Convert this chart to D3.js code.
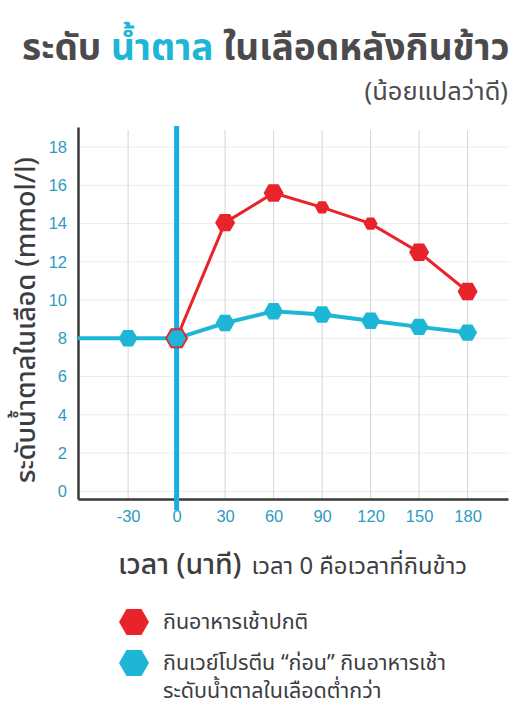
<!DOCTYPE html>
<html>
<head>
<meta charset="utf-8">
<script src="https://cdn.jsdelivr.net/npm/d3@7"></script>
<style>
  body { margin: 0; background: #fff; }
  svg { display: block; font-family: "Noto Sans Thai", "Noto Sans", sans-serif; }
</style>
</head>
<body>
<svg id="chart" width="525" height="720"></svg>
<script>
// data
let times = [-30, 0, 30, 60, 90, 120, 150, 180];
let normalBreakfast = [null, 8, 14.05, 15.6, 14.85, 14.0, 12.5, 10.45];
let wheyFirst = [8, 8, 8.8, 9.42, 9.25, 8.92, 8.6, 8.3];
let xTicks = [-30, 0, 30, 60, 90, 120, 150, 180];
let yTicks = [0, 2, 4, 6, 8, 10, 12, 14, 16, 18];
let smallRed = [90, 120];

let red = "#e8242a", blue = "#1db6d6", vline = "#16aee4", grey = "#4b4b4d", tickCol = "#2e9bc0";

let margin = {top: 127, right: 17, bottom: 221, left: 78},
    width = 525 - margin.left - margin.right,
    height = 720 - margin.top - margin.bottom;

let svg = d3.select("#chart");

// title
let title = svg.append("text")
    .attr("x", 22).attr("y", 60)
    .attr("font-size", 37).attr("font-weight", 700).attr("fill", grey);
title.append("tspan").text("ระดับ ");
title.append("tspan").attr("fill", blue).text("น้ำตาล");
title.append("tspan").text(" ในเลือดหลังกินข้าว");

svg.append("text")
    .attr("x", 508).attr("y", 100)
    .attr("text-anchor", "end")
    .attr("font-size", 25.5).attr("fill", grey)
    .text("(น้อยแปลว่าดี)");

let g = svg.append("g")
    .attr("transform", "translate(" + margin.left + "," + margin.top + ")");

// set the ranges
let x = d3.scaleLinear().domain([-61, 205]).range([0, width]);
let y = d3.scaleLinear().domain([-0.4, 19.05]).range([height, 0]);

// grid
g.selectAll(".hgrid").data(yTicks).enter().append("line")
    .attr("x1", 0).attr("x2", width + 2)
    .attr("y1", d => y(d)).attr("y2", d => y(d))
    .attr("stroke", "#ececec").attr("stroke-width", 1);

g.selectAll(".vgrid").data(xTicks.filter(d => d !== 0)).enter().append("line")
    .attr("x1", d => x(d)).attr("x2", d => x(d))
    .attr("y1", 3).attr("y2", height)
    .attr("stroke", "#d4d4d4").attr("stroke-width", 1);

// axes
let yAxis = g.append("g")
    .call(d3.axisLeft(y).tickValues(yTicks).tickSize(0).tickPadding(11));
yAxis.select(".domain").attr("stroke", "#3a3a3a").attr("stroke-width", 2.5);
yAxis.selectAll("text").attr("font-size", 16.5).attr("fill", tickCol)
    .attr("font-family", "'Liberation Sans', Arial, sans-serif");

let xAxis = g.append("g")
    .attr("transform", "translate(0," + height + ")")
    .call(d3.axisBottom(x).tickValues(xTicks).tickSize(0).tickPadding(11)
        .tickFormat(d => d < 0 ? "-" + Math.abs(d) : d));
xAxis.select(".domain").attr("stroke", "#3a3a3a").attr("stroke-width", 2.5);
xAxis.selectAll("text").attr("font-size", 16.5).attr("fill", tickCol)
    .attr("font-family", "'Liberation Sans', Arial, sans-serif");

// time zero line
g.append("line")
    .attr("x1", x(0)).attr("x2", x(0))
    .attr("y1", -1).attr("y2", height + 11)
    .attr("stroke", vline).attr("stroke-width", 5);

// hexagon path
function hex(r) {
  let pts = d3.range(6).map(i => [r * Math.cos(i * Math.PI / 3), r * Math.sin(i * Math.PI / 3)]);
  return "M" + pts.join("L") + "Z";
}

let redPts = times.map((t, i) => ({t: t, v: normalBreakfast[i]})).filter(d => d.v !== null);
let bluePts = times.map((t, i) => ({t: t, v: wheyFirst[i]}));

let line = d3.line().x(d => x(d.t)).y(d => y(d.v));

// blue line runs in from the left edge of the plot
g.append("path")
    .datum([{t: x.domain()[0], v: wheyFirst[0]}].concat(bluePts))
    .attr("d", line)
    .attr("fill", "none").attr("stroke", blue).attr("stroke-width", 4);

g.append("path")
    .datum(redPts)
    .attr("d", line)
    .attr("fill", "none").attr("stroke", red).attr("stroke-width", 3);

g.selectAll(".redm").data(redPts).enter().append("path")
    .attr("transform", d => "translate(" + x(d.t) + "," + y(d.v) + ")")
    .attr("d", d => hex(smallRed.includes(d.t) ? 7 : 10))
    .attr("fill", red);

g.selectAll(".bluem").data(bluePts).enter().append("path")
    .attr("transform", d => "translate(" + x(d.t) + "," + y(d.v) + ")")
    .attr("d", d => hex(d.t === 0 ? 10.5 : 9.5))
    .attr("fill", blue)
    .attr("stroke", d => redPts.some(r => r.t === d.t && r.v === d.v) ? red : "none")
    .attr("stroke-width", 1.8);

// axis titles
svg.append("text")
    .attr("transform", "translate(35," + (margin.top + 193) + ") rotate(-90)")
    .attr("text-anchor", "middle")
    .attr("font-size", 27).attr("font-weight", 500).attr("fill", "#3d3d3f")
    .text("ระดับน้ำตาลในเลือด (mmol/l)");

let xt = svg.append("text")
    .attr("x", 118).attr("y", 574)
    .attr("fill", "#3d3d3f");
xt.append("tspan").attr("font-size", 28.5).attr("font-weight", 500).text("เวลา (นาที)");
xt.append("tspan").attr("font-size", 23.8).attr("dx", 10).text("เวลา 0 คือเวลาที่กินข้าว");

// legend
let legend = [
  {color: red, lines: ["กินอาหารเช้าปกติ"], y: 622},
  {color: blue, lines: ["กินเวย์โปรตีน “ก่อน” กินอาหารเช้า", "ระดับน้ำตาลในเลือดต่ำกว่า"], y: 663}
];
let lg = svg.selectAll(".leg").data(legend).enter().append("g")
    .attr("transform", d => "translate(134," + d.y + ")");
lg.append("path").attr("d", hex(15)).attr("fill", d => d.color);
lg.each(function(d) {
  let t = d3.select(this).append("text")
      .attr("x", 29).attr("y", 7)
      .attr("font-size", 21.5).attr("fill", "#3d3d3f");
  d.lines.forEach((s, i) => t.append("tspan").attr("x", 29).attr("dy", i ? 27.5 : 0).text(s));
});
</script>
</body>
</html>
